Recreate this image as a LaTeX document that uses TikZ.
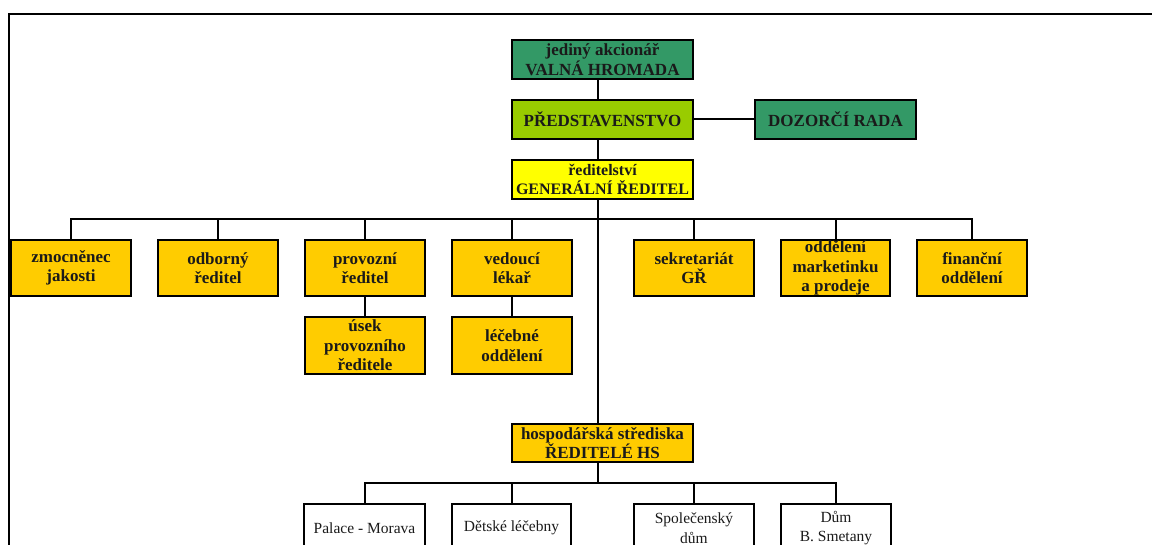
\documentclass[tikz,border=0pt]{standalone}
\usepackage{fontspec}
\setmainfont{Liberation Serif}
\definecolor{dkgreen}{HTML}{339966}
\definecolor{limeg}{HTML}{99CC00}
\definecolor{goldb}{HTML}{FFCC00}
\definecolor{yelb}{HTML}{FFFF00}
\definecolor{txt}{HTML}{1A1A1A}
\begin{document}
\begin{tikzpicture}[x=1pt,y=-1pt,
  box/.style={draw=black, line width=2.2pt, inner sep=0pt, align=center,
    font=\bfseries\fontsize{17}{19.5}\selectfont, text=txt},
  topbox/.style={box, minimum width=181pt, minimum height=39pt},
  rowbox/.style={box, fill=goldb, minimum width=120pt, minimum height=56pt},
  subbox/.style={box, fill=goldb, minimum width=120pt, minimum height=57pt},
  botbox/.style={box, fill=white, minimum width=120pt, minimum height=48pt,
    font=\fontsize{15.5}{19.5}\selectfont},
  conn/.style={line width=2pt, draw=black}]
\clip (0,0) rectangle (1152,545);
% frame
\coordinate (fTR) at (1160,14);
\coordinate (fTL) at (9,14);
\coordinate (fBL) at (9,560);
\draw[line width=2.3pt] (fTR) -- (fTL) -- (fBL);
% spine
\coordinate (spine) at (598,219);
\coordinate (bus2) at (598,483);
% top
\node[topbox, fill=dkgreen] (va) at (602.5,59.5) {jediný akcionář\\VALNÁ HROMADA};
\node[topbox, fill=limeg] (pr) at (602.5,119.5) {PŘEDSTAVENSTVO};
\node[box, fill=dkgreen, minimum width=161pt, minimum height=39pt] (dz) at (835.5,119.5) {DOZORČÍ RADA};
\node[topbox, fill=yelb, font=\bfseries\fontsize{16}{19}\selectfont] (gr) at (602.5,179.5) {ředitelství\\GENERÁLNÍ ŘEDITEL};
% row
\node[rowbox] (zm) at (71,268) {zmocněnec\\jakosti};
\node[rowbox] (ob) at (218,268) {odborný\\ředitel};
\node[rowbox] (pv) at (365,268) {provozní\\ředitel};
\node[rowbox] (vl) at (512,268) {vedoucí\\lékař};
\node[rowbox] (se) at (694,268) {sekretariát\\GŘ};
\node[rowbox, minimum width=109pt] (om) at (835.5,268) {oddělení\\marketinku\\a prodeje};
\node[rowbox, minimum width=110pt] (fi) at (972,268) {finanční\\oddělení};
\node[subbox] (us) at (365,345.5) {úsek\\provozního\\ředitele};
\node[subbox] (le) at (512,345.5) {léčebné\\oddělení};
% HS
\node[topbox, fill=goldb, minimum height=38pt] (hs) at (602.5,443) {hospodářská střediska\\ŘEDITELÉ HS};
\node[botbox, minimum width=121pt] (pa) at (364.5,528) {Palace - Morava};
\node[botbox, minimum width=119pt] (de) at (511.5,528) {Dětské léčebny};
\node[botbox] (sp) at (694,528) {Společenský\\dům};
\node[botbox, minimum width=110pt] (du) at (836,528) {Dům\\B. Smetany};
% connectors
\draw[conn] (va.south -| spine) -- (pr.north -| spine);
\draw[conn] (pr.south -| spine) -- (gr.north -| spine);
\draw[conn] (pr.east) -- (dz.west);
\draw[conn] (gr.south -| spine) -- (hs.north -| spine);
\draw[conn] (zm.north) |- (spine) -| (fi.north);
\foreach \n in {ob,pv,vl,se,om} \draw[conn] (\n.north) -- (\n.north |- spine);
\draw[conn] (pv.south) -- (us.north);
\draw[conn] (vl.south) -- (le.north);
\draw[conn] (hs.south -| bus2) -- (bus2);
\draw[conn] (pa.north) |- (bus2) -| (du.north);
\foreach \n in {de,sp} \draw[conn] (\n.north) -- (\n.north |- bus2);
\end{tikzpicture}
\end{document}
